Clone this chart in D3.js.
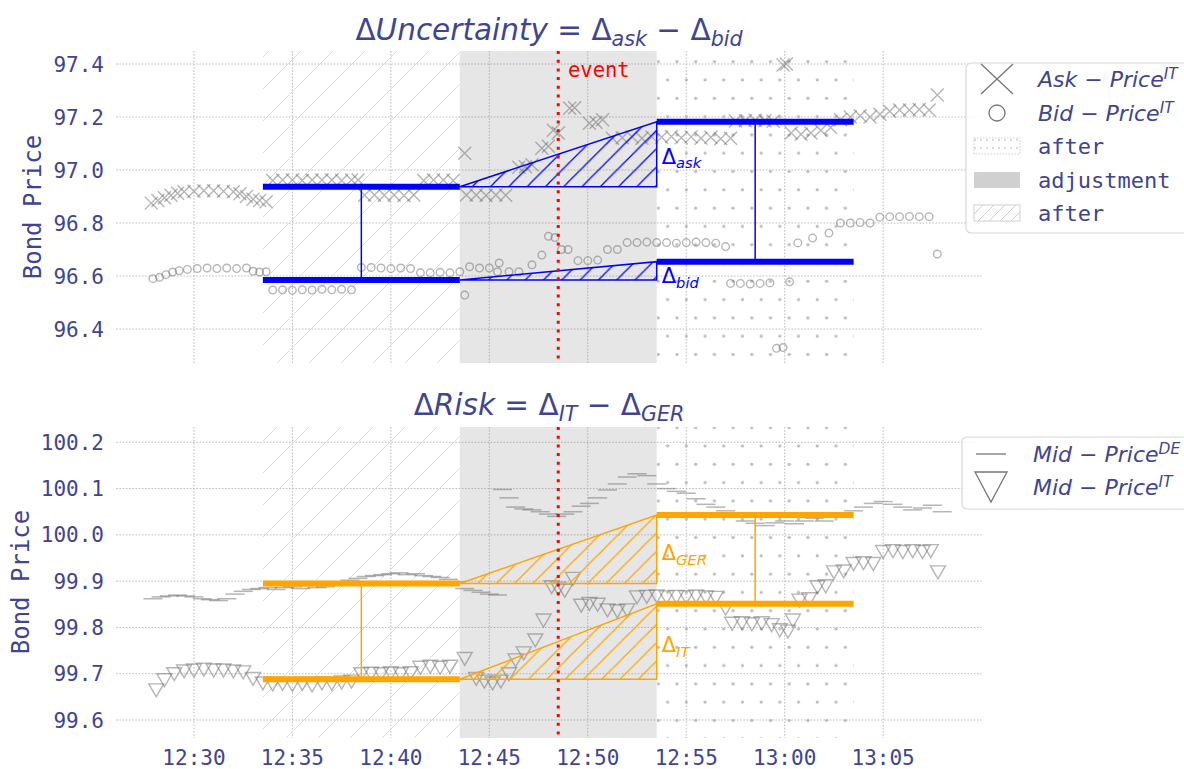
<!DOCTYPE html>
<html><head><meta charset="utf-8">
<script src="https://cdn.jsdelivr.net/npm/d3@7"></script>
<style>body{margin:0;background:#fff}svg{display:block}</style>
</head><body><svg id="c" width="1184" height="769"></svg>
<script>
// ---------------- DATA ----------------
const xTickLabels = ["12:30","12:35","12:40","12:45","12:50","12:55","13:00","13:05"];
const topTicks = [96.4, 96.6, 96.8, 97.0, 97.2, 97.4];
const botTicks = [99.6, 99.7, 99.8, 99.9, 100.0, 100.1, 100.2];
const phaseBounds = ["12:33:30", "12:43:30", "12:53:30", "13:03:30"];
const midTimes = ["12:38:30", "12:58:30"];
const eventTime = "12:48:30";
const askLevels = [96.937, 97.182];
const bidLevels = [96.585, 96.654];
const deLevels = [99.895, 100.043];
const itLevels = [99.688, 99.851];

const askPts = [
 ["12:27:50",96.875],["12:28:10",96.885],["12:28:30",96.895],["12:28:50",96.905],["12:29:10",96.912],
 ["12:29:30",96.918],["12:30:00",96.920],["12:30:30",96.922],["12:31:00",96.922],["12:31:30",96.920],
 ["12:32:00",96.918],["12:32:20",96.910],["12:32:40",96.900],["12:33:00",96.890],["12:33:20",96.885],
 ["12:33:40",96.880],["12:34:00",96.960],["12:34:30",96.962],["12:35:00",96.962],["12:35:30",96.960],
 ["12:36:00",96.962],["12:36:30",96.962],["12:37:00",96.962],["12:37:30",96.960],["12:38:00",96.962],
 ["12:38:20",96.962],["12:38:40",96.905],["12:39:10",96.906],["12:39:40",96.905],["12:40:10",96.906],
 ["12:40:40",96.904],["12:41:10",96.906],["12:41:40",96.960],["12:42:10",96.962],["12:42:40",96.962],
 ["12:43:10",96.960],["12:43:45",97.063],["12:43:50",96.906],["12:44:20",96.906],["12:44:50",96.904],
 ["12:45:20",96.906],["12:45:50",96.905],["12:46:30",97.010],["12:46:50",97.012],["12:47:10",97.020],
 ["12:47:40",97.082],["12:48:00",97.090],["12:48:15",97.150],["12:48:30",97.140],["12:49:05",97.233],
 ["12:49:20",97.235],["12:50:05",97.176],["12:50:25",97.180],["12:50:45",97.190],["12:51:15",97.120],
 ["12:51:45",97.122],["12:52:15",97.125],["12:52:45",97.120],["12:53:15",97.125],["12:53:45",97.124],
 ["12:54:15",97.126],["12:54:45",97.122],["12:55:15",97.125],["12:55:45",97.120],["12:56:15",97.124],
 ["12:56:45",97.118],["12:57:15",97.120],["12:57:30",97.185],["12:58:00",97.186],["12:58:30",97.188],
 ["12:59:00",97.186],["12:59:25",97.184],["12:59:55",97.396],["13:00:05",97.400],["13:00:20",97.140],
 ["13:00:50",97.135],["13:01:20",97.140],["13:01:50",97.150],["13:02:20",97.160],["13:02:50",97.190],
 ["13:03:20",97.200],["13:03:50",97.205],["13:04:20",97.200],["13:04:50",97.210],["13:05:20",97.222],
 ["13:05:50",97.226],["13:06:20",97.226],["13:06:50",97.228],["13:07:20",97.226],["13:07:45",97.283]
];
const bidPts = [
 ["12:27:55",96.590],["12:28:15",96.595],["12:28:35",96.605],["12:28:55",96.615],["12:29:15",96.620],
 ["12:29:40",96.625],["12:30:10",96.628],["12:30:40",96.630],["12:31:10",96.628],["12:31:40",96.630],
 ["12:32:10",96.628],["12:32:40",96.630],["12:33:00",96.618],["12:33:20",96.615],["12:33:40",96.616],
 ["12:34:00",96.547],["12:34:30",96.548],["12:35:00",96.546],["12:35:30",96.548],["12:36:00",96.547],
 ["12:36:30",96.550],["12:37:00",96.548],["12:37:30",96.550],["12:38:00",96.548],["12:38:30",96.632],
 ["12:39:00",96.632],["12:39:30",96.630],["12:40:00",96.628],["12:40:30",96.630],["12:41:00",96.628],
 ["12:41:30",96.612],["12:42:00",96.612],["12:42:30",96.614],["12:43:00",96.612],["12:43:30",96.616],
 ["12:43:45",96.528],["12:44:00",96.635],["12:44:30",96.630],["12:45:00",96.630],["12:45:25",96.616],
 ["12:45:30",96.649],["12:46:00",96.616],["12:46:30",96.616],["12:47:10",96.642],["12:47:40",96.679],
 ["12:48:00",96.750],["12:48:20",96.745],["12:48:40",96.700],["12:49:00",96.700],["12:49:30",96.658],
 ["12:50:00",96.658],["12:50:30",96.660],["12:51:00",96.700],["12:51:30",96.700],["12:52:00",96.726],
 ["12:52:30",96.726],["12:53:00",96.728],["12:53:30",96.726],["12:54:00",96.726],["12:54:30",96.724],
 ["12:55:00",96.726],["12:55:30",96.728],["12:56:00",96.726],["12:56:30",96.724],["12:57:00",96.711],
 ["12:57:15",96.572],["12:57:45",96.572],["12:58:15",96.570],["12:58:45",96.572],["12:59:15",96.574],
 ["12:59:35",96.327],["12:59:55",96.330],["13:00:15",96.578],["13:00:40",96.725],["13:01:25",96.743],
 ["13:02:15",96.762],["13:02:50",96.800],["13:03:20",96.800],["13:03:50",96.802],["13:04:20",96.800],
 ["13:04:50",96.822],["13:05:20",96.824],["13:05:50",96.824],["13:06:20",96.825],["13:06:50",96.824],
 ["13:07:20",96.824],["13:07:45",96.683]
];
const dePts = [
 ["12:27:55",99.862],["12:28:20",99.866],["12:28:45",99.868],["12:29:10",99.870],["12:29:35",99.868],
 ["12:30:00",99.866],["12:30:25",99.862],["12:30:50",99.860],["12:31:15",99.858],["12:31:40",99.862],
 ["12:32:05",99.872],["12:32:30",99.878],["12:32:55",99.882],["12:33:20",99.884],["12:33:45",99.886],
 ["12:34:10",99.882],["12:34:35",99.886],["12:35:00",99.888],["12:35:25",99.884],["12:35:50",99.890],
 ["12:36:15",99.886],["12:36:40",99.888],["12:37:05",99.892],["12:37:30",99.896],["12:37:55",99.902],
 ["12:38:20",99.906],["12:38:45",99.910],["12:39:10",99.912],["12:39:35",99.914],["12:40:00",99.916],
 ["12:40:25",99.918],["12:40:50",99.914],["12:41:15",99.916],["12:41:40",99.912],["12:42:05",99.910],
 ["12:42:30",99.908],["12:42:55",99.904],["12:43:20",99.898],["12:43:45",99.884],["12:44:10",99.880],
 ["12:44:35",99.876],["12:45:00",99.872],["12:45:25",99.870],["12:45:40",100.098],["12:46:00",100.080],
 ["12:46:20",100.060],["12:46:45",100.056],["12:47:10",100.054],["12:47:35",100.050],["12:48:00",100.045],
 ["12:48:25",100.040],["12:48:50",100.045],["12:49:15",100.050],["12:49:40",100.062],["12:50:05",100.068],
 ["12:50:30",100.080],["12:51:00",100.097],["12:51:30",100.110],["12:52:00",100.125],["12:52:30",100.132],
 ["12:53:00",100.128],["12:53:30",100.110],["12:54:00",100.100],["12:54:30",100.094],["12:55:00",100.090],
 ["12:55:30",100.078],["12:56:00",100.066],["12:56:30",100.060],["12:57:00",100.052],["12:57:30",100.040],
 ["12:58:00",100.030],["12:58:30",100.025],["12:59:00",100.020],["12:59:30",100.026],["13:00:00",100.030],
 ["13:00:30",100.024],["13:01:00",100.030],["13:01:30",100.036],["13:02:00",100.030],["13:02:30",100.040],
 ["13:03:00",100.046],["13:03:30",100.052],["13:04:00",100.060],["13:04:30",100.068],["13:05:00",100.072],
 ["13:05:30",100.066],["13:06:00",100.060],["13:06:30",100.054],["13:07:00",100.058],["13:07:30",100.064],
 ["13:08:00",100.050]
];
const itPts = [
 ["12:28:05",99.665],["12:28:30",99.687],["12:29:00",99.700],["12:29:30",99.706],["12:30:00",99.708],
 ["12:30:30",99.710],["12:31:00",99.708],["12:31:30",99.708],["12:32:00",99.706],["12:32:30",99.704],
 ["12:33:00",99.690],["12:33:30",99.680],["12:34:00",99.678],["12:34:30",99.679],["12:35:00",99.677],
 ["12:35:30",99.679],["12:36:00",99.676],["12:36:30",99.680],["12:37:00",99.679],["12:37:30",99.682],
 ["12:38:00",99.684],["12:38:30",99.700],["12:39:00",99.701],["12:39:30",99.700],["12:40:00",99.702],
 ["12:40:30",99.700],["12:41:00",99.702],["12:41:30",99.714],["12:42:00",99.716],["12:42:30",99.714],
 ["12:43:00",99.716],["12:43:45",99.733],["12:44:20",99.690],["12:44:45",99.684],["12:45:10",99.680],
 ["12:45:35",99.684],["12:46:00",99.700],["12:46:20",99.730],["12:46:45",99.745],["12:47:20",99.773],
 ["12:47:45",99.816],["12:48:10",99.888],["12:48:30",99.885],["12:48:50",99.880],["12:49:15",99.906],
 ["12:49:40",99.848],["12:50:05",99.852],["12:50:30",99.850],["12:51:00",99.838],["12:51:30",99.836],
 ["12:52:00",99.838],["12:52:30",99.866],["12:53:00",99.867],["12:53:30",99.868],["12:54:00",99.866],
 ["12:54:30",99.867],["12:55:00",99.866],["12:55:30",99.868],["12:56:00",99.866],["12:56:30",99.865],
 ["12:57:00",99.842],["12:57:20",99.809],["12:57:50",99.810],["12:58:20",99.808],["12:58:50",99.810],
 ["12:59:20",99.806],["12:59:45",99.795],["13:00:10",99.792],["13:00:25",99.816],["13:00:45",99.859],
 ["13:01:15",99.862],["13:01:40",99.888],["13:02:05",99.890],["13:02:30",99.920],["13:03:00",99.922],
 ["13:03:30",99.938],["13:04:00",99.940],["13:04:30",99.938],["13:05:00",99.964],["13:05:30",99.966],
 ["13:06:00",99.964],["13:06:30",99.966],["13:07:00",99.964],["13:07:25",99.966],["13:07:47",99.920]
];

// ---------------- SETUP ----------------
const TXT = "#3f4593";
const MONO = "'DejaVu Sans Mono', monospace";
const SANS = "'DejaVu Sans', sans-serif";
const parse = d3.timeParse("%H:%M:%S");
const T = s => parse(s.length === 5 ? s + ":00" : s);

const svg = d3.select("#c");
const defs = svg.append("defs");

const x = d3.scaleTime().domain([T("12:26"), T("13:10")]).range([115.2, 981.6]);

// patterns
function hatch(id, color, size, w) {
  const p = defs.append("pattern").attr("id", id).attr("patternUnits", "userSpaceOnUse")
    .attr("width", size).attr("height", size);
  p.append("path").attr("d", `M${-size/4},${size/4} L${size/4},${-size/4} M0,${size} L${size},0 M${size*0.75},${size*1.25} L${size*1.25},${size*0.75}`)
    .attr("stroke", color).attr("stroke-width", w).attr("fill", "none");
}
hatch("bgHatch", "#dedede", 32, 1);
hatch("blueHatch", "#0000ff", 18.3, 1.2);
hatch("orangeHatch", "#ffa500", 18.3, 1.2);
hatch("legHatch", "#d0d0d0", 11, 1);
const dp = defs.append("pattern").attr("id", "dots").attr("patternUnits", "userSpaceOnUse")
  .attr("width", 18.7).attr("height", 36.6);
dp.append("circle").attr("cx", 3.8).attr("cy", 25.1).attr("r", 1.6).attr("fill", "#bababa");
dp.append("circle").attr("cx", 13.15).attr("cy", 6.8).attr("r", 1.6).attr("fill", "#bababa");
const dpl = defs.append("pattern").attr("id", "legDots").attr("patternUnits", "userSpaceOnUse")
  .attr("width", 6).attr("height", 8);
dpl.append("circle").attr("cx", 3).attr("cy", 4).attr("r", 0.9).attr("fill", "#c8c8c8");

// math text helper
function mathText(sel, parts, size) {
  let shift = 0;
  parts.forEach(p => {
    const ts = sel.append("tspan").text(p.t).attr("font-style", p.it ? "italic" : "normal");
    let target = 0;
    if (p.sub) { ts.attr("font-size", size * 0.7); target = size * 0.22; }
    else if (p.sup) { ts.attr("font-size", size * 0.7); target = -size * 0.38; }
    const dy = target - shift;
    if (dy !== 0) ts.attr("dy", dy);
    shift = target;
  });
}

// markers
const markX = "M-6.5,-6.5L6.5,6.5M-6.5,6.5L6.5,-6.5";
const markTri = "M-7.5,-6L7.5,-6L0,7Z";
const markDash = "M-9.5,0L9.5,0";
const markO = "M-3.8,0a3.8,3.8 0 1,0 7.6,0a3.8,3.8 0 1,0 -7.6,0";

function panel(cfg) {
  const g = svg.append("g");
  const y = d3.scaleLinear().domain(cfg.domain).range(cfg.range);
  const top = cfg.top, bot = cfg.bottom;
  const xl = x.range()[0] + 1, xr = x.range()[1];

  // grid
  g.append("g").selectAll("line").data(cfg.ticks).join("line")
    .attr("x1", xl).attr("x2", xr).attr("y1", d => y(d)).attr("y2", d => y(d))
    .attr("stroke", "#b4b4b4").attr("stroke-width", 0.9).attr("stroke-dasharray", "1.6,1.6");
  g.append("g").selectAll("line").data(xTickLabels).join("line")
    .attr("x1", d => x(T(d))).attr("x2", d => x(T(d))).attr("y1", top).attr("y2", bot)
    .attr("stroke", "#b4b4b4").attr("stroke-width", 0.9).attr("stroke-dasharray", "1.6,1.6");

  // phase backgrounds
  const pb = phaseBounds.map(T);
  g.append("rect").attr("x", x(pb[0])).attr("width", x(pb[1]) - x(pb[0]))
    .attr("y", top).attr("height", bot - top).attr("fill", "url(#bgHatch)");
  g.append("rect").attr("x", x(pb[1])).attr("width", x(pb[2]) - x(pb[1]))
    .attr("y", top).attr("height", bot - top).attr("fill", "gray").attr("opacity", 0.2);
  g.append("rect").attr("x", x(pb[2])).attr("width", x(pb[3]) - x(pb[2]))
    .attr("y", top).attr("height", bot - top).attr("fill", "url(#dots)");

  // scatter
  cfg.series.forEach(s => {
    g.append("g").selectAll("path").data(s.pts).join("path")
      .attr("transform", d => `translate(${x(T(d[0]))},${y(d[1])})`)
      .attr("d", s.mark).attr("fill", "none").attr("stroke", "#6e6e6e")
      .attr("stroke-width", s.sw || 1.4).attr("opacity", 0.5);
  });

  // delta shapes
  const line = d3.line().x(d => x(T(d[0]))).y(d => y(d[1]));
  cfg.levels.forEach(lv => {
    g.append("path").attr("d", line([[phaseBounds[1], lv[0]], [phaseBounds[2], lv[1]], [phaseBounds[2], lv[0]]]) + "Z")
      .attr("fill", cfg.hatch).attr("stroke", cfg.color).attr("stroke-width", 1.5);
    g.append("path").attr("d", line([[phaseBounds[0], lv[0]], [phaseBounds[1], lv[0]]]))
      .attr("stroke", cfg.color).attr("stroke-width", 6);
    g.append("path").attr("d", line([[phaseBounds[2], lv[1]], [phaseBounds[3], lv[1]]]))
      .attr("stroke", cfg.color).attr("stroke-width", 6);
  });
  [0, 1].forEach(i => {
    g.append("path").attr("d", line([[midTimes[i], cfg.levels[0][i]], [midTimes[i], cfg.levels[1][i]]]))
      .attr("stroke", cfg.color).attr("stroke-width", 1.5);
  });
  // delta labels
  cfg.levels.forEach((lv, i) => {
    const t = g.append("text").attr("x", x(pb[2]) + 5).attr("y", y(lv[0]) + cfg.labelDy[i])
      .attr("font-family", SANS).attr("font-size", 21).attr("fill", cfg.color);
    mathText(t, [{ t: "Δ" }, { t: cfg.labelSubs[i], it: 1, sub: 1 }], 21);
  });

  // event line
  g.append("line").attr("x1", x(T(eventTime))).attr("x2", x(T(eventTime)))
    .attr("y1", top).attr("y2", bot).attr("stroke", "red").attr("stroke-width", 3)
    .attr("stroke-dasharray", "3,5.7");

  // y ticks
  g.append("g").selectAll("text").data(cfg.ticks).join("text")
    .attr("x", 104).attr("y", d => y(d)).attr("dy", "0.36em").attr("text-anchor", "end")
    .attr("font-family", MONO).attr("font-size", 21).attr("fill", TXT)
    .text(d => d.toFixed(1));
  // y label
  g.append("text").attr("transform", `translate(${cfg.ylabX},${cfg.ylabY}) rotate(-90)`)
    .attr("text-anchor", "middle").attr("font-family", MONO).attr("font-size", 24)
    .attr("fill", TXT).text("Bond Price");
  // title
  const tt = g.append("text").attr("x", 549).attr("y", cfg.titleY).attr("text-anchor", "middle")
    .attr("font-family", SANS).attr("font-size", 29.5).attr("fill", TXT);
  mathText(tt, cfg.title, 29.5);
  return { g, y };
}

const P1 = panel({
  domain: [96.4, 97.4], range: [329, 64], top: 51, bottom: 363, ticks: topTicks,
  series: [{ pts: askPts, mark: markX }, { pts: bidPts, mark: markO }],
  levels: [askLevels, bidLevels], color: "#0000ff", hatch: "url(#blueHatch)",
  labelSubs: ["ask", "bid"], labelDy: [-23, 3],
  ylabX: 41, ylabY: 207,
  titleY: 40,
  title: [{ t: "Δ" }, { t: "Uncertainty", it: 1 }, { t: " = Δ" }, { t: "ask", it: 1, sub: 1 }, { t: " − Δ" }, { t: "bid", it: 1, sub: 1 }]
});
const P2 = panel({
  domain: [99.6, 100.2], range: [720, 442.3], top: 427, bottom: 738, ticks: botTicks,
  series: [{ pts: dePts, mark: markDash, sw: 1.5 }, { pts: itPts, mark: markTri }],
  levels: [deLevels, itLevels], color: "#ffa500", hatch: "url(#orangeHatch)",
  labelSubs: ["GER", "IT"], labelDy: [-23, -27],
  ylabX: 29, ylabY: 582,
  titleY: 415,
  title: [{ t: "Δ" }, { t: "Risk", it: 1 }, { t: " = Δ" }, { t: "IT", it: 1, sub: 1 }, { t: " − Δ" }, { t: "GER", it: 1, sub: 1 }]
});

// event label
P1.g.append("text").attr("x", 568).attr("y", 77).attr("font-family", MONO).attr("font-size", 20.5)
  .attr("fill", "red").text("event");

// x tick labels
svg.append("g").selectAll("text").data(xTickLabels).join("text")
  .attr("x", d => x(T(d))).attr("y", 765).attr("text-anchor", "middle")
  .attr("font-family", MONO).attr("font-size", 21).attr("fill", TXT).text(d => d);

// legends
const legTop = [
  { kind: "x", parts: [{ t: "Ask", it: 1 }, { t: " − " }, { t: "Price", it: 1 }, { t: "IT", it: 1, sup: 1 }] },
  { kind: "o", parts: [{ t: "Bid", it: 1 }, { t: " − " }, { t: "Price", it: 1 }, { t: "IT", it: 1, sup: 1 }] },
  { kind: "dots", mono: "after" },
  { kind: "gray", mono: "adjustment" },
  { kind: "hatch", mono: "after" }
];
const legBot = [
  { kind: "dash", parts: [{ t: "Mid", it: 1 }, { t: " − " }, { t: "Price", it: 1 }, { t: "DE", it: 1, sup: 1 }] },
  { kind: "tri", parts: [{ t: "Mid", it: 1 }, { t: " − " }, { t: "Price", it: 1 }, { t: "IT", it: 1, sup: 1 }] }
];

function legend(items, bx, by, bh, rows, mx, tx) {
  const g = svg.append("g");
  g.append("rect").attr("x", bx).attr("y", by).attr("width", 1190 - bx).attr("height", bh)
    .attr("rx", 5).attr("fill", "white").attr("fill-opacity", 0.85).attr("stroke", "#d8d8d8").attr("stroke-width", 1.2);
  items.forEach((it, i) => {
    const cy = rows[i];
    if (it.kind === "x") g.append("path").attr("d", `M${mx-16},${cy-15}L${mx+16},${cy+15}M${mx-16},${cy+15}L${mx+16},${cy-15}`).attr("stroke", "#777").attr("stroke-width", 1.3);
    if (it.kind === "o") g.append("circle").attr("cx", mx).attr("cy", cy).attr("r", 8).attr("fill", "none").attr("stroke", "#777").attr("stroke-width", 1.3);
    if (it.kind === "dash") g.append("line").attr("x1", mx - 15).attr("x2", mx + 15).attr("y1", cy).attr("y2", cy).attr("stroke", "#888").attr("stroke-width", 1.5);
    if (it.kind === "tri") g.append("path").attr("d", `M${mx-16},${cy-15}L${mx+16},${cy-15}L${mx},${cy+15}Z`).attr("fill", "none").attr("stroke", "#777").attr("stroke-width", 1.3);
    if (it.kind === "dots") g.append("rect").attr("x", mx - 23).attr("y", cy - 8).attr("width", 46).attr("height", 16).attr("fill", "url(#legDots)").attr("stroke", "#cfcfcf").attr("stroke-dasharray", "1.5,1.5");
    if (it.kind === "gray") g.append("rect").attr("x", mx - 23).attr("y", cy - 8).attr("width", 46).attr("height", 16).attr("fill", "#d0d0d0");
    if (it.kind === "hatch") g.append("rect").attr("x", mx - 23).attr("y", cy - 8).attr("width", 46).attr("height", 16).attr("fill", "url(#legHatch)").attr("stroke", "#d0d0d0");
    const t = g.append("text").attr("x", tx).attr("y", cy + 8).attr("fill", TXT);
    if (it.mono) t.attr("font-family", MONO).attr("font-size", 22).text(it.mono);
    else { t.attr("font-family", SANS).attr("font-size", 22); mathText(t, it.parts, 22); }
  });
}
legend(legTop, 966, 63, 170, [79, 113, 146, 180, 213], 997, 1038);
legend(legBot, 962, 437, 72, [454, 487], 991, 1033);
</script></body></html>
